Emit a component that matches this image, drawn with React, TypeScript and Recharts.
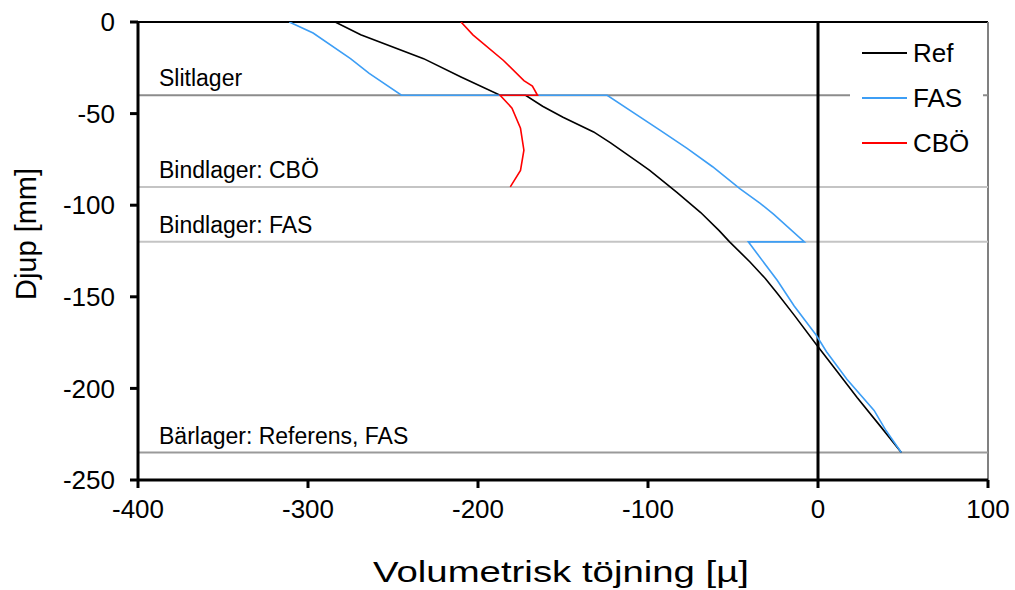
import { Legend, Line, LineChart, ReferenceLine, XAxis, YAxis } from "recharts";

const FONT = '"Liberation Sans", Arial, sans-serif';

// Ref
const refStrain = [-284, -269, -232, -210, -187, -172, -162, -150, -132, -122, -105, -99, -83, -69, -58, -52, -40, -31, -24, -14, -1, 9, 23, 37, 49];
const refDepth = [0, -7, -20, -30, -40, -40, -46, -52, -60, -66, -77, -81, -93, -104, -114, -120, -131, -140, -148, -160, -176, -188, -205, -221, -235];

// FAS
const fasStrain = [-311, -297, -275, -264, -245, -124, -93, -77, -62, -46, -34, -26, -8, -41, -24, -14, -1, 5, 17, 33, 40, 49];
const fasDepth = [0, -6, -20, -28, -40, -40, -59, -69, -79, -91, -99, -105, -120, -120, -141, -155, -171, -180, -195, -212, -223, -235];

// CBÖ
const cboStrain = [-210, -203, -185, -173, -168, -165, -187, -180, -175, -173, -175, -181];
const cboDepth = [0, -7, -21, -32, -35, -40, -40, -47, -58, -70, -81, -90];

// lager
const layerDepths = [-40, -90, -120, -235];
const layerNames = ["Slitlager", "Bindlager: CBÖ", "Bindlager: FAS", "Bärlager: Referens, FAS"];
const layerColors = ["#8c8c8c", "#c4c4c4", "#c4c4c4", "#9a9a9a"];

const xTicks = [-400, -300, -200, -100, 0, 100];
const yTicks = [0, -50, -100, -150, -200, -250];

const toPoints = (xs: number[], ys: number[]) => xs.map((x, i) => ({ x, y: ys[i] }));

const series = [
  { name: "Ref", color: "#000000", data: toPoints(refStrain, refDepth) },
  { name: "FAS", color: "#3d9ef5", data: toPoints(fasStrain, fasDepth) },
  { name: "CBÖ", color: "#ff0000", data: toPoints(cboStrain, cboDepth) },
];

const renderLegend = () => (
  <div style={{ position: "relative", width: 133, height: 137, background: "#fff", fontFamily: FONT, fontSize: 26 }}>
    {series.map((s, i) => (
      <div key={s.name} style={{ position: "absolute", left: 0, top: 10 + i * 45, height: 30, display: "flex", alignItems: "center" }}>
        <span style={{ display: "inline-block", marginLeft: 12, width: 45, height: 2, background: s.color }} />
        <span style={{ marginLeft: 6, color: "#000" }}>{s.name}</span>
      </div>
    ))}
  </div>
);

const layerLabel = (name: string) => (props: any) => {
  const vb = props.viewBox;
  return (
    <text x={vb.x + 21} y={vb.y - 9} fontSize={23} fontFamily={FONT} fill="#000">
      {name}
    </text>
  );
};

export default function App() {
  return (
    <div style={{ position: "absolute", left: 0, top: 0, background: "#fff" }}>
      <LineChart width={1015} height={590} margin={{ top: 22, right: 27, bottom: 0, left: 0 }}>
        <XAxis
          type="number"
          dataKey="x"
          domain={[-400, 100]}
          ticks={xTicks}
          height={110}
          allowDataOverflow
          stroke="#000"
          strokeWidth={3}
          tickSize={8}
          tickMargin={12}
          tick={{ fill: "#000", fontSize: 26, fontFamily: FONT }}
          label={{
            content: () => (
              <text
                x={561}
                y={582}
                textAnchor="middle"
                fontSize={30}
                fontFamily={FONT}
                fill="#000"
                textLength={376}
                lengthAdjust="spacingAndGlyphs"
              >
                Volumetrisk töjning [µ]
              </text>
            ),
          }}
        />
        <YAxis
          type="number"
          dataKey="y"
          domain={[-250, 0]}
          ticks={yTicks}
          width={138}
          allowDataOverflow
          stroke="#000"
          strokeWidth={3}
          tickSize={8}
          tickMargin={15}
          tick={{ fill: "#000", fontSize: 26, fontFamily: FONT }}
          label={{
            content: () => (
              <text x={36} y={234} transform="rotate(-90, 36, 234)" textAnchor="middle" fontSize={29} fontFamily={FONT} fill="#000">
                Djup [mm]
              </text>
            ),
          }}
        />
        <ReferenceLine y={0} stroke="#000" strokeWidth={2} />
        <ReferenceLine x={100} stroke="#808080" strokeWidth={2} />
        {layerDepths.map((d, i) => (
          <ReferenceLine key={d} y={d} stroke={layerColors[i]} strokeWidth={2} label={layerLabel(layerNames[i])} />
        ))}
        <ReferenceLine x={0} stroke="#000" strokeWidth={3} />
        {series.map((s) => (
          <Line
            key={s.name}
            data={s.data}
            dataKey="y"
            name={s.name}
            type="linear"
            stroke={s.color}
            strokeWidth={1.6}
            dot={false}
            activeDot={false}
            isAnimationActive={false}
          />
        ))}
        <Legend
          layout="vertical"
          align="center"
          verticalAlign="middle"
          content={renderLegend}
          wrapperStyle={{ left: 850, top: 28, width: 133, height: 137 }}
        />
      </LineChart>
    </div>
  );
}
